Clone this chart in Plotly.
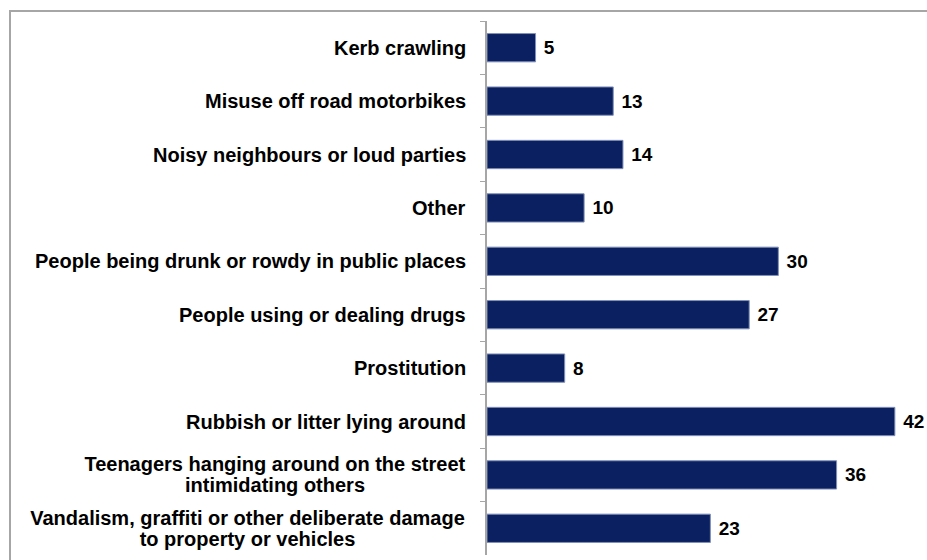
import plotly.graph_objects as go

categories = [
    "Kerb crawling",
    "Misuse off road motorbikes",
    "Noisy neighbours or loud parties",
    "Other",
    "People being drunk or rowdy in public places",
    "People using or dealing drugs",
    "Prostitution",
    "Rubbish or litter lying around",
    "Teenagers hanging around on the street<br>intimidating others",
    "Vandalism, graffiti or other deliberate damage<br>to property or vehicles",
]
values = [5, 13, 14, 10, 30, 27, 8, 42, 36, 23]

W, H = 927, 560
L, T, B = 487, 21, 5
plot_w = 437
R = W - L - plot_w
plot_h = H - T - B
FONT = "Liberation Sans, Arial"
LABEL_SIZE = 20
line_gap = 21
# approximate rendered widths (px) of the widest line of the two-line labels
block_width = {categories[8]: 382, categories[9]: 437}

fig = go.Figure(go.Bar(
    x=values, y=categories, orientation="h",
    marker=dict(color="#0a2060", line=dict(color="#8090b8", width=1)),
    text=[str(v) for v in values], textposition="outside",
    texttemplate="<b> %{text}</b>",
    textfont=dict(family=FONT, size=19, color="black"),
    cliponaxis=False, width=0.53,
))

annotations = []
for c in categories:
    lines = c.split("<br>")
    n = len(lines)
    for i, ln in enumerate(lines):
        shift = ((n - 1) / 2 - i) * line_gap
        a = dict(text="<b>%s</b>" % ln, x=0, xref="paper", y=c, yref="y",
                 xanchor="right", yanchor="middle", xshift=-20, yshift=shift,
                 showarrow=False, align="center", borderpad=0,
                 font=dict(family=FONT, size=LABEL_SIZE, color="black"))
        if n > 1:
            a["width"] = block_width[c]
        annotations.append(a)

def px_x(p):
    return (p - L) / plot_w

def px_y(p):
    return (H - B - p) / plot_h

fig.update_layout(
    width=W, height=H,
    margin=dict(l=L, r=R, t=T, b=B),
    paper_bgcolor="white", plot_bgcolor="white",
    showlegend=False,
    annotations=annotations,
    shapes=[dict(type="rect", xref="paper", yref="paper",
                 x0=px_x(10), x1=px_x(960), y0=px_y(600), y1=px_y(11),
                 line=dict(color="#a6a6a6", width=2), layer="below")],
    font=dict(family=FONT),
)
fig.update_xaxes(range=[0, 45], visible=False)
fig.update_yaxes(autorange="reversed", showticklabels=False,
                 showline=True, linecolor="#a6a6a6", linewidth=2,
                 ticks="outside", tickson="boundaries", ticklen=5,
                 tickcolor="#a6a6a6", tickwidth=1, showgrid=False, zeroline=False)

fig.write_html("out.html")
